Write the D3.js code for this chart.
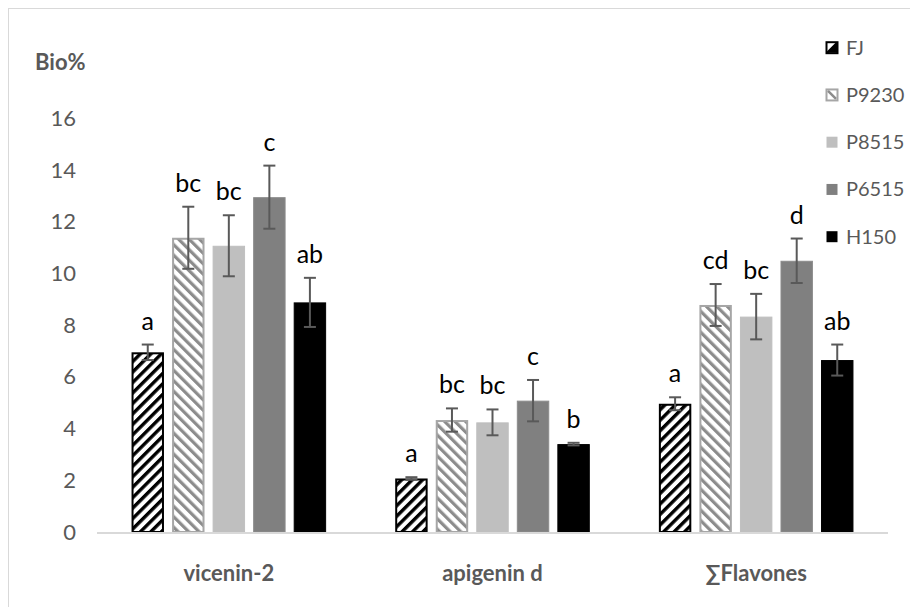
<!DOCTYPE html>
<html>
<head>
<meta charset="utf-8">
<script src="https://cdn.jsdelivr.net/npm/d3@7"></script>
<style>
  html, body { margin: 0; padding: 0; background: #fff; }
  svg { display: block; }
  text { font-family: Lato, "Open Sans", sans-serif; }
</style>
</head>
<body>
<svg id="chart" width="910" height="607"></svg>
<script>
// ---- data ----
const categories = ["vicenin-2", "apigenin d", "\u2211Flavones"];
const series = ["FJ", "P9230", "P8515", "P6515", "H150"];
const valFJ    = [6.95, 2.07, 4.96];
const valP9230 = [11.38, 4.33, 8.78];
const valP8515 = [11.07, 4.24, 8.33];
const valP6515 = [12.95, 5.08, 10.49];
const valH150  = [8.88, 3.40, 6.65];
const errFJ    = [0.30, 0.05, 0.25];
const errP9230 = [1.20, 0.45, 0.81];
const errP8515 = [1.18, 0.50, 0.88];
const errP6515 = [1.22, 0.80, 0.86];
const errH150  = [0.95, 0.05, 0.60];
const letFJ    = ["a", "a", "a"];
const letP9230 = ["bc", "bc", "cd"];
const letP8515 = ["bc", "bc", "bc"];
const letP6515 = ["c", "c", "d"];
const letH150  = ["ab", "b", "ab"];
const yTicks = [0, 2, 4, 6, 8, 10, 12, 14, 16];
const yLabel = "Bio%";

const values = { FJ: valFJ, P9230: valP9230, P8515: valP8515, P6515: valP6515, H150: valH150 };
const errors = { FJ: errFJ, P9230: errP9230, P8515: errP8515, P6515: errP6515, H150: errH150 };
const letters = { FJ: letFJ, P9230: letP9230, P8515: letP8515, P6515: letP6515, H150: letH150 };

const rows = [];
categories.forEach((c, ci) => series.forEach(s => rows.push({
  cat: c, s, v: values[s][ci], e: errors[s][ci], l: letters[s][ci]
})));

// ---- layout ----
const svg = d3.select("#chart");
const plot = { left: 97, right: 888, top: 118.3, bottom: 532 };
const FONT = "Lato, 'Open Sans', sans-serif";

svg.append("rect").attr("x", 8.5).attr("y", 8.5).attr("width", 1000).attr("height", 1000)
  .attr("fill", "#fff").attr("stroke", "#d9d9d9").attr("stroke-width", 1);

const defs = svg.append("defs");
function stripes(id, color, angle, period, thick) {
  const p = defs.append("pattern").attr("id", id).attr("patternUnits", "userSpaceOnUse")
    .attr("width", period).attr("height", period)
    .attr("patternTransform", `rotate(${angle})`);
  p.append("rect").attr("width", period).attr("height", period).attr("fill", "#fff");
  p.append("rect").attr("width", thick).attr("height", period).attr("fill", color);
}
stripes("patFJ", "#000", 45, 7.4, 3.4);
stripes("patP9230", "#8c8c8c", -45, 7.4, 3.2);

const fills = { FJ: "url(#patFJ)", P9230: "url(#patP9230)", P8515: "#bfbfbf", P6515: "#808080", H150: "#000" };
const strokes = { FJ: "#000", P9230: "#a6a6a6", P8515: "#bfbfbf", P6515: "#8c8c8c", H150: "#000" };
const strokeW = { FJ: 2, P9230: 2, P8515: 1, P6515: 1, H150: 1 };

const x0 = d3.scaleBand().domain(categories).range([plot.left, plot.right])
  .paddingInner(0.262).paddingOuter(0.131);
const x1 = d3.scaleBand().domain(series).range([0, x0.bandwidth()]).paddingInner(0.2);
const y = d3.scaleLinear().domain([0, 16]).range([plot.bottom, plot.top]);

// y axis labels
const yAxis = d3.axisLeft(y).tickValues(yTicks).tickSize(0).tickPadding(0);
const ya = svg.append("g").attr("transform", `translate(76,0)`).call(yAxis);
ya.select(".domain").remove();
ya.selectAll("text").attr("font-size", 22).attr("fill", "#595959").attr("font-family", FONT);

svg.append("text").attr("x", 35).attr("y", 70).text(yLabel)
  .attr("font-size", 22).attr("font-weight", "bold").attr("fill", "#595959");

// bars
const g = svg.append("g");
g.selectAll("rect.bar").data(rows).join("rect").attr("class", "bar")
  .attr("x", d => x0(d.cat) + x1(d.s) + strokeW[d.s] / 2)
  .attr("y", d => y(d.v) + strokeW[d.s] / 2)
  .attr("width", d => x1.bandwidth() - strokeW[d.s])
  .attr("height", d => y(0) - y(d.v) - strokeW[d.s] / 2)
  .attr("fill", d => fills[d.s]).attr("stroke", d => strokes[d.s])
  .attr("stroke-width", d => strokeW[d.s]);

// x axis baseline
svg.append("line").attr("x1", plot.left).attr("x2", plot.right)
  .attr("y1", y(0) + 1).attr("y2", y(0) + 1)
  .attr("stroke", "#d9d9d9").attr("stroke-width", 2);

// x axis labels
const xAxis = d3.axisBottom(x0).tickSize(0).tickPadding(0);
const xa = svg.append("g").attr("transform", `translate(0,${y(0) + 33})`).call(xAxis);
xa.select(".domain").remove();
xa.selectAll("text").attr("font-size", 22).attr("font-weight", "bold").attr("fill", "#595959")
  .attr("font-family", FONT);

// error bars
const cx = d => x0(d.cat) + x1(d.s) + x1.bandwidth() / 2;
const eb = g.append("g").attr("stroke", "#595959").attr("stroke-width", 2);
eb.selectAll("line.v").data(rows).join("line").attr("class", "v")
  .attr("x1", cx).attr("x2", cx).attr("y1", d => y(d.v + d.e)).attr("y2", d => y(d.v - d.e));
eb.selectAll("line.t").data(rows).join("line").attr("class", "t")
  .attr("x1", d => cx(d) - 6).attr("x2", d => cx(d) + 6)
  .attr("y1", d => y(d.v + d.e)).attr("y2", d => y(d.v + d.e));
eb.selectAll("line.b").data(rows).join("line").attr("class", "b")
  .attr("x1", d => cx(d) - 6).attr("x2", d => cx(d) + 6)
  .attr("y1", d => y(d.v - d.e)).attr("y2", d => y(d.v - d.e));

// significance letters
g.selectAll("text.let").data(rows).join("text").attr("class", "let")
  .attr("x", cx).attr("y", d => y(d.v + d.e) - 15)
  .attr("text-anchor", "middle").attr("font-size", 25).attr("fill", "#000")
  .text(d => d.l);

// legend
const lg = svg.append("g").attr("transform", "translate(826,0)");
const ly = d3.scalePoint().domain(series).range([47.7, 236.7]);
const item = lg.selectAll("g").data(series).join("g")
  .attr("transform", s => `translate(0,${ly(s)})`);
item.append("rect").attr("x", 0.5).attr("y", -5.5).attr("width", 11).attr("height", 11)
  .attr("fill", s => s === "FJ" || s === "P9230" ? "#fff" : fills[s])
  .attr("stroke", s => strokes[s]).attr("stroke-width", s => (s === "FJ" || s === "P9230") ? 2 : 0);
item.filter(s => s === "FJ").append("path").attr("d", "M1,5 L11,-5 L11,5 Z").attr("fill", "#000");
item.filter(s => s === "FJ").append("line").attr("x1", 1).attr("y1", 5).attr("x2", 11).attr("y2", -5)
  .attr("stroke", "#000").attr("stroke-width", 2);
item.filter(s => s === "P9230").append("line").attr("x1", 2).attr("y1", -4).attr("x2", 10).attr("y2", 4)
  .attr("stroke", "#8c8c8c").attr("stroke-width", 2.5);
item.append("text").attr("x", 20).attr("dy", "0.35em").text(s => s)
  .attr("font-size", 20).attr("fill", "#595959");
</script>
</body>
</html>
